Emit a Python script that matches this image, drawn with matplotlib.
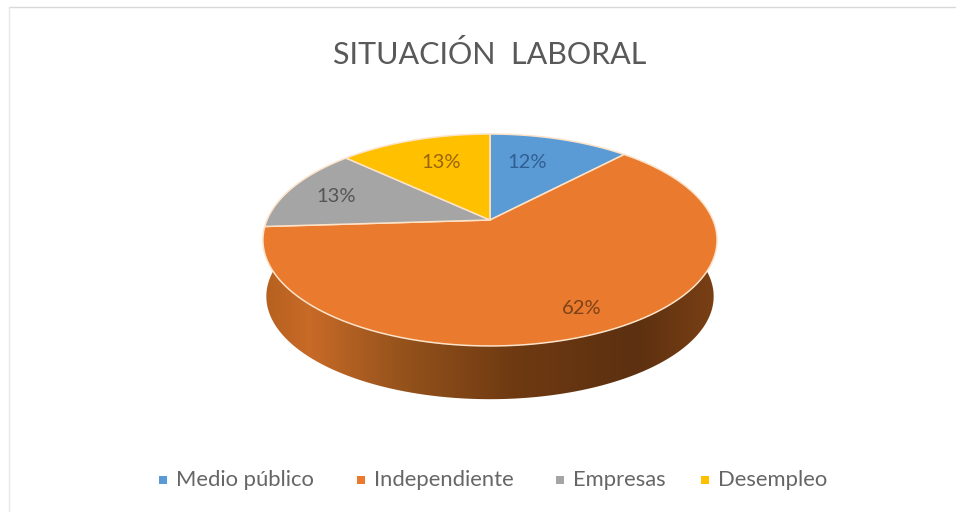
import numpy as np
import matplotlib
matplotlib.use('Agg')
import matplotlib.pyplot as plt
from matplotlib.colors import LinearSegmentedColormap
from matplotlib.patches import Polygon

plt.rcParams['font.family'] = ['Lato', 'DejaVu Sans']

title = 'SITUACIÓN  LABORAL'
categories = ['Medio público', 'Independiente', 'Empresas', 'Desempleo']
values = [12, 62, 13, 13]
labels = ['12%', '62%', '13%', '13%']
colors = ['#5b9bd5', '#e97a2e', '#a5a5a5', '#ffc000']
label_colors = ['#2f5f94', '#7d4218', '#555555', '#99650a']

# layout, in image pixels
label_xy = [(527, 162), (582, 308), (336, 197), (441, 162)]
legend_x = [163, 361, 560, 705]

# pie geometry in image pixels (the original is a 3D pie with perspective)
cx, cy = 490, 220
bx, by, persp = 223, 102.2, 0.1887
rim = '#fde3c8'


def project(theta):
    # theta in degrees clockwise from the top
    t = np.radians(theta)
    u, v = np.sin(t), np.cos(t)
    w = 1 + persp * v
    return cx + bx * u / w, cy - by * v / w


fig = plt.figure(figsize=(9.59, 5.12), dpi=100)
ax = fig.add_axes([0, 0, 1, 1])

# side wall with its dark gradient
side = np.linspace(60, 300, 200)
tx, ty = project(side)
lx = cx + (tx - cx) * 0.985
ly = cy + (ty - cy) * 0.97 + 57
wall = Polygon(np.r_[np.c_[tx, ty], np.c_[lx, ly][::-1]], closed=True,
               transform=ax.transData, facecolor='none', edgecolor='none')
ax.add_patch(wall)
cmap = LinearSegmentedColormap.from_list('wall', [
    (0.00, '#7a4015'), (0.18, '#5c3010'), (0.45, '#6f3a12'),
    (0.70, '#96531c'), (0.90, '#c86a28'), (1.00, '#b5601f')])
img = ax.imshow(np.linspace(1, 0, 256).reshape(1, -1), cmap=cmap, aspect='auto',
                extent=[263, 717, 400, 220], vmin=0, vmax=1, interpolation='bilinear')
img.set_clip_path(wall)

# top face slices
start = 0
for value, color, label, label_color, xy in zip(values, colors, labels, label_colors, label_xy):
    end = start + value * 3.6
    x, y = project(np.linspace(start, end, 120))
    ax.fill(np.r_[cx, x], np.r_[cy, y], facecolor=color, edgecolor=rim, linewidth=1.1,
            joinstyle='round', zorder=3)
    ax.text(xy[0], xy[1], label, color=label_color, fontsize=14.5,
            ha='center', va='center', zorder=4)
    start = end

ax.text(490, 55, title, color='#595959', fontsize=22, ha='center', va='center')

for name, color, lx0 in zip(categories, colors, legend_x):
    ax.scatter([lx0], [480], marker='s', s=26, color=color, linewidths=0)
    ax.text(lx0 + 13, 480, name, color='#666666', fontsize=15.8,
            ha='left', va='center')

# chart frame
ax.plot([9, 955], [7, 7], color='#d9d9d9', lw=1)
ax.plot([9, 9], [7, 512], color='#e8e8e8', lw=1)

ax.set_xlim(0, 959)
ax.set_ylim(512, 0)
ax.axis('off')
fig.savefig('out.png', dpi=100, facecolor='white')
